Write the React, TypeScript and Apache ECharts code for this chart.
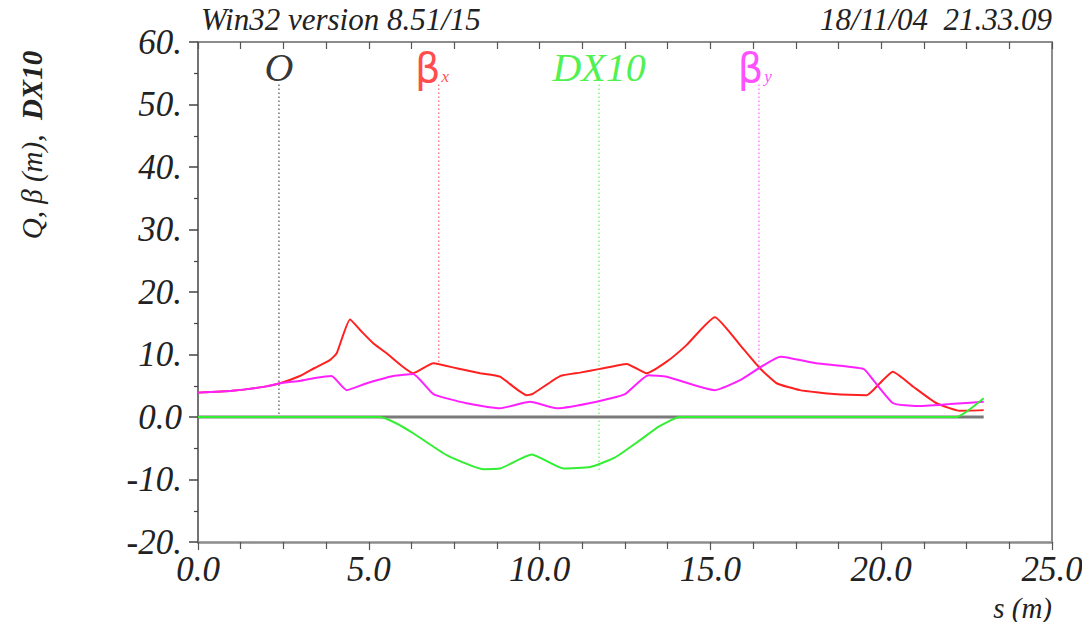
import React, { useEffect, useRef } from "react";
import * as echarts from "echarts";

// beta_x (red)
const betaXS = [0, 1, 2, 2.4, 3.0, 3.4, 3.86, 4.06, 4.45, 4.8, 5.13, 5.52, 6.3, 6.89, 7.57, 8.26, 8.84, 9.62, 9.8, 10.6, 11.18, 11.77, 12.55, 13.13, 13.72, 14.3, 15.13, 15.87, 16.45, 16.94, 17.62, 18.6, 19.58, 19.96, 20.34, 20.94, 21.62, 22.3, 23.0];
const betaX = [3.9, 4.2, 4.9, 5.4, 6.6, 7.8, 9.1, 10.2, 15.6, 13.6, 11.8, 10.2, 7.0, 8.6, 7.8, 7.0, 6.45, 3.5, 3.7, 6.55, 7.1, 7.7, 8.5, 7.0, 8.85, 11.5, 15.96, 11.5, 7.8, 5.4, 4.3, 3.67, 3.5, 5.4, 7.25, 4.85, 2.2, 1.0, 1.1];

// beta_y (magenta)
const betaYS = [0, 1, 2, 2.4, 3.0, 3.38, 3.91, 4.35, 4.94, 5.72, 6.3, 6.89, 7.86, 8.84, 9.72, 10.5, 11.67, 12.5, 13.18, 13.72, 15.13, 15.87, 17.06, 18.1, 19.48, 19.77, 20.35, 21.04, 22.0, 23.0];
const betaY = [3.9, 4.2, 4.9, 5.4, 5.8, 6.2, 6.55, 4.3, 5.4, 6.55, 6.9, 3.67, 2.2, 1.4, 2.45, 1.4, 2.45, 3.67, 6.7, 6.45, 4.3, 5.9, 9.65, 8.6, 7.7, 5.9, 2.2, 1.75, 2.07, 2.45];

// DX10 (green)
const dxS = [0, 5.0, 5.33, 5.8, 6.3, 7.28, 8.35, 8.84, 9.77, 10.7, 11.48, 12.2, 12.94, 13.5, 14.1, 22.2, 23.0];
const dx10 = [0, 0, 0, -1.0, -2.6, -6.1, -8.35, -8.25, -6.0, -8.25, -8.0, -6.5, -3.7, -1.5, 0, 0, 3.0];

// orbit O (zero line)
const orbitS = [0, 23.0];
const orbit = [0, 0];

// legend labels with their marker lines
const markerNames = ["O", "βx", "DX10", "βy"];
const markerS = [2.37, 7.05, 11.74, 16.42];
const markerTop = [53.2, 53.2, 53.2, 53.2];
const markerBottom = [0, 8.5, -8.5, 7.6];
const markerLabelS = [2.37, 6.85, 11.74, 16.3];
const markerLabelY = [55.9, 55.9, 55.9, 55.9];
const markerColors = ["#000000", "#ff1a1a", "#22ee22", "#ff22ff"];

const xTickStep = 5;
const yTickStep = 10;

const serif = "'Liberation Serif', 'Times New Roman', serif";

function pairs(xs: number[], ys: number[]) {
  return xs.map((x, i) => [x, ys[i]]);
}

export default function App() {
  const ref = useRef<HTMLDivElement>(null);
  useEffect(() => {
    if (!ref.current) return;
    const chart = echarts.init(ref.current, null, { renderer: "svg" });
    const labelStyle = {
      fontFamily: serif,
      fontStyle: "italic",
      fontSize: 35,
      color: "#222",
    };
    const markerSeries = markerNames.map((n, i) => ({
      type: "line",
      name: n + "-mark",
      data: [
        [markerS[i], markerTop[i]],
        [markerS[i], markerBottom[i]],
      ],
      symbol: "none",
      silent: true,
      z: 1,
      lineStyle: { color: markerColors[i], width: 1, type: [1.5, 2.5], opacity: 0.85 },
    }));
    const labelFormatters: Record<string, string> = {
      O: "{t|O}",
      βx: "{b|β}{s|x}",
      DX10: "{t|DX10}",
      βy: "{b|β}{s|y}",
    };
    const labelSeries = {
      type: "scatter",
      name: "labels",
      symbolSize: 0,
      silent: true,
      data: markerNames.map((n, i) => ({
        value: [markerLabelS[i], markerLabelY[i]],
        label: {
          show: true,
          position: "inside",
          color: markerColors[i],
          formatter: labelFormatters[n],
          rich: {
            t: { fontFamily: serif, fontStyle: "italic", fontSize: 40, color: markerColors[i] },
            b: { fontFamily: "'DejaVu Sans', sans-serif", fontSize: 40, color: markerColors[i] },
            s: {
              fontFamily: serif,
              fontStyle: "italic",
              fontSize: 17,
              color: markerColors[i],
              padding: [18, 0, 0, 1],
            },
          },
        },
      })),
    };

    chart.setOption({
      animation: false,
      backgroundColor: "#ffffff",
      grid: { left: 198, right: 38, top: 42, bottom: 88, containLabel: false },
      xAxis: [
        {
          type: "value",
          min: 0,
          max: 25,
          interval: xTickStep,
          position: "bottom",
          axisLine: { show: true, onZero: false, lineStyle: { color: "#8c8c8c", width: 2.5 } },
          axisTick: { show: true, length: 8, lineStyle: { color: "#555", width: 1.2 } },
          minorTick: { show: true, splitNumber: 4, length: 7, lineStyle: { color: "#555", width: 1.2 } },
          axisLabel: { ...labelStyle, margin: 10, formatter: (v: number) => v.toFixed(1) },
          splitLine: { show: false },
        },
        {
          type: "value",
          min: 0,
          max: 25,
          interval: xTickStep,
          position: "top",
          axisLine: { show: true, onZero: false, lineStyle: { color: "#8c8c8c", width: 2 } },
          axisTick: { show: true, inside: true, length: 7, lineStyle: { color: "#555", width: 1.2 } },
          minorTick: { show: true, splitNumber: 4, length: 7, lineStyle: { color: "#555", width: 1.2 } },
          axisLabel: { show: false },
          splitLine: { show: false },
        },
      ],
      yAxis: [
        {
          type: "value",
          min: -20,
          max: 60,
          interval: yTickStep,
          position: "left",
          axisLine: { show: true, onZero: false, lineStyle: { color: "#444", width: 1.5 } },
          axisTick: { show: true, length: 9, lineStyle: { color: "#444", width: 1.5 } },
          minorTick: { show: true, splitNumber: 2, length: 4, lineStyle: { color: "#444", width: 1.2 } },
          axisLabel: {
            ...labelStyle,
            margin: 16,
            formatter: (v: number) => (v === 0 ? "0.0" : v + "."),
          },
          splitLine: { show: false },
        },
        {
          type: "value",
          min: -20,
          max: 60,
          interval: yTickStep,
          position: "right",
          axisLine: { show: true, onZero: false, lineStyle: { color: "#8c8c8c", width: 2 } },
          axisTick: { show: false },
          axisLabel: { show: false },
          splitLine: { show: false },
        },
      ],
      series: [
        ...markerSeries,
        {
          type: "line",
          name: "O",
          data: pairs(orbitS, orbit),
          symbol: "none",
          z: 2,
          lineStyle: { color: "#7a7a7a", width: 3 },
        },
        {
          type: "line",
          name: "βx",
          data: pairs(betaXS, betaX),
          symbol: "none",
          smooth: 0.15,
          z: 3,
          lineStyle: { color: "#ff2020", width: 2 },
        },
        {
          type: "line",
          name: "βy",
          data: pairs(betaYS, betaY),
          symbol: "none",
          smooth: 0.15,
          z: 3,
          lineStyle: { color: "#ff20ff", width: 2 },
        },
        {
          type: "line",
          name: "DX10",
          data: pairs(dxS, dx10),
          symbol: "none",
          smooth: 0.15,
          z: 4,
          lineStyle: { color: "#33ee33", width: 2 },
        },
        labelSeries,
      ],
      graphic: [
        {
          type: "text",
          left: 201,
          top: 4,
          style: { text: "Win32 version 8.51/15", font: `italic 31px ${serif}`, fill: "#222" },
        },
        {
          type: "text",
          right: 38,
          top: 4,
          style: { text: "18/11/04  21.33.09", font: `italic 31px ${serif}`, fill: "#222" },
        },
        {
          type: "text",
          right: 38,
          top: 593,
          style: { text: "s (m)", font: `italic 29px ${serif}`, fill: "#222" },
        },
        {
          type: "text",
          x: 32,
          y: 145,
          rotation: Math.PI / 2,
          style: {
            text: "{n|Q, β (m),  }{d|DX10}",
            align: "center",
            verticalAlign: "middle",
            rich: {
              n: { fontFamily: serif, fontStyle: "italic", fontSize: 29, fill: "#222", color: "#222" },
              d: { fontFamily: serif, fontStyle: "italic", fontWeight: "bold", fontSize: 29, fill: "#222", color: "#222" },
            },
          },
        },
      ],
    });
    return () => chart.dispose();
  }, []);
  return <div ref={ref} style={{ width: 1090, height: 630, margin: -8 }} />;
}
